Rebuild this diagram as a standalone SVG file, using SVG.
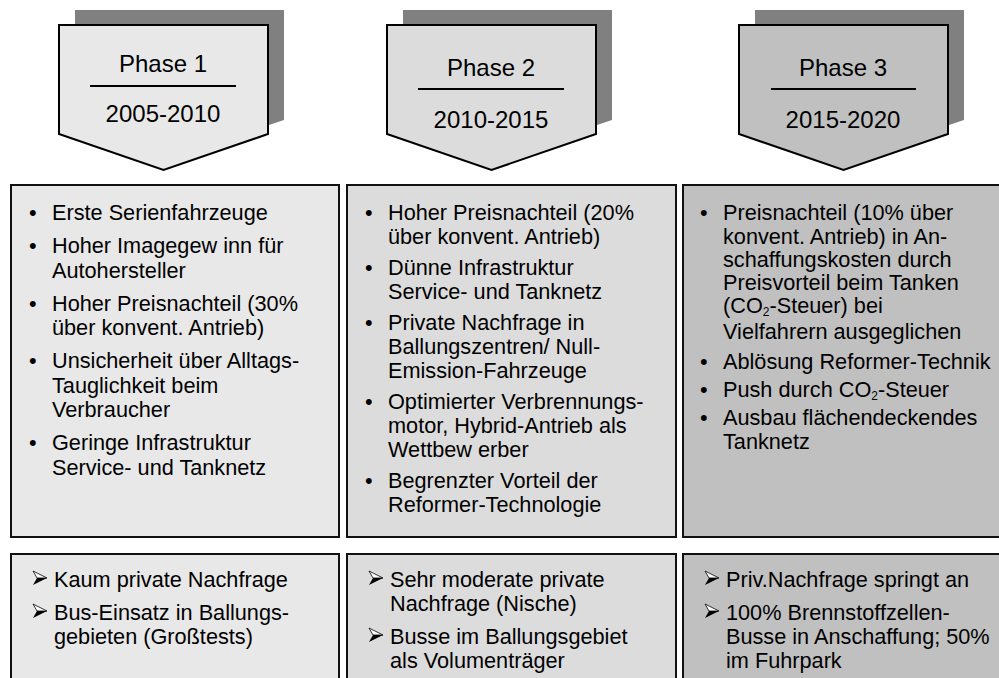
<svg xmlns="http://www.w3.org/2000/svg" width="999" height="678" viewBox="0 0 999 678">
<style>
.shadow{fill:#808080}
.pent{stroke:#000;stroke-width:2;stroke-linejoin:miter}
.box{stroke:#111;stroke-width:2}
.f1{fill:#e8e8e8}.f2{fill:#dcdcdc}.f3{fill:#c0c0c0}
.ph{font-family:"Liberation Sans",Arial,sans-serif;font-size:24px;text-anchor:middle;fill:#000}
.rule{stroke:#000;stroke-width:2}
.t{font-family:"Liberation Sans",Arial,sans-serif;font-size:21.7px;fill:#000}
.sub{font-size:12px}
</style>
<defs>
<g id="arr">
<path d="M0,0 L14,7 L4,7 Z" fill="#fff" stroke="#000" stroke-width="0.8" stroke-linejoin="round"/>
<path d="M4,7 L14,7 L0,14 Z" fill="#000"/>
</g>
</defs>

<g id="phase1">
<polygon class="shadow" points="75,10 284,10 284,120 179.5,155 75,120"/>
<polygon class="pent f1" points="59,25 268,25 268,134 163.5,170 59,134"/>
<text class="ph" x="163" y="72">Phase 1</text>
<line class="rule" x1="90" y1="86" x2="236" y2="86"/>
<text class="ph" x="163" y="122">2005-2010</text>
</g>

<g id="phase2">
<polygon class="shadow" points="403,10 612,10 612,120 507.5,155 403,120"/>
<polygon class="pent f2" points="387,25 596,25 596,134 491.5,170 387,134"/>
<text class="ph" x="491" y="76">Phase 2</text>
<line class="rule" x1="418" y1="89" x2="564" y2="89"/>
<text class="ph" x="491" y="128">2010-2015</text>
</g>

<g id="phase3">
<polygon class="shadow" points="755,10 964,10 964,120 859.5,155 755,120"/>
<polygon class="pent f3" points="739,25 948,25 948,134 843.5,170 739,134"/>
<text class="ph" x="843" y="76">Phase 3</text>
<line class="rule" x1="771" y1="89" x2="916" y2="89"/>
<text class="ph" x="843" y="128">2015-2020</text>
</g>

<g id="box1">
<rect class="box f1" x="11" y="185" width="328" height="352"/>
<g class="t">
<text x="29" y="220">•</text><text x="52" y="220">Erste Serienfahrzeuge</text>
<text x="29" y="253">•</text><text x="52" y="253">Hoher Imagegew inn für</text>
<text x="52" y="277.5">Autohersteller</text>
<text x="29" y="310.5">•</text><text x="52" y="310.5">Hoher Preisnachteil (30%</text>
<text x="52" y="335">über konvent. Antrieb)</text>
<text x="29" y="368">•</text><text x="52" y="368">Unsicherheit über Alltags-</text>
<text x="52" y="392.5">Tauglichkeit beim</text>
<text x="52" y="417">Verbraucher</text>
<text x="29" y="450">•</text><text x="52" y="450">Geringe Infrastruktur</text>
<text x="52" y="474.5">Service- und Tanknetz</text>
</g>
</g>

<g id="box2">
<rect class="box f2" x="347" y="185" width="329" height="352"/>
<g class="t">
<text x="365" y="220">•</text><text x="388" y="220">Hoher Preisnachteil (20%</text>
<text x="388" y="244">über konvent. Antrieb)</text>
<text x="365" y="275">•</text><text x="388" y="275">Dünne Infrastruktur</text>
<text x="388" y="299">Service- und Tanknetz</text>
<text x="365" y="330">•</text><text x="388" y="330">Private Nachfrage in</text>
<text x="388" y="354">Ballungszentren/ Null-</text>
<text x="388" y="378">Emission-Fahrzeuge</text>
<text x="365" y="409">•</text><text x="388" y="409">Optimierter Verbrennungs-</text>
<text x="388" y="433">motor, Hybrid-Antrieb als</text>
<text x="388" y="457">Wettbew erber</text>
<text x="365" y="488">•</text><text x="388" y="488">Begrenzter Vorteil der</text>
<text x="388" y="512">Reformer-Technologie</text>
</g>
</g>

<g id="box3">
<rect class="box f3" x="683" y="185" width="330" height="352"/>
<g class="t">
<text x="700" y="220">•</text><text x="723" y="220">Preisnachteil (10% über</text>
<text x="723" y="244">konvent. Antrieb) in An-</text>
<text x="723" y="267">schaffungskosten durch</text>
<text x="723" y="290">Preisvorteil beim Tanken</text>
<text x="723" y="313">(CO<tspan class="sub" dy="3">2</tspan><tspan dy="-3">-Steuer) bei</tspan></text>
<text x="723" y="339">Vielfahrern ausgeglichen</text>
<text x="700" y="369">•</text><text x="723" y="369">Ablösung Reformer-Technik</text>
<text x="700" y="397">•</text><text x="723" y="397">Push durch CO<tspan class="sub" dy="3">2</tspan><tspan dy="-3">-Steuer</tspan></text>
<text x="700" y="425">•</text><text x="723" y="425">Ausbau flächendeckendes</text>
<text x="723" y="449">Tanknetz</text>
</g>
</g>

<g id="bottom1">
<rect class="box f1" x="11" y="554" width="328" height="140"/>
<use href="#arr" x="33" y="571"/>
<use href="#arr" x="33" y="604"/>
<g class="t">
<text x="54" y="587">Kaum private Nachfrage</text>
<text x="54" y="620">Bus-Einsatz in Ballungs-</text>
<text x="54" y="644">gebieten (Großtests)</text>
</g>
</g>

<g id="bottom2">
<rect class="box f2" x="347" y="554" width="329" height="140"/>
<use href="#arr" x="369" y="571"/>
<use href="#arr" x="369" y="628"/>
<g class="t">
<text x="390" y="587">Sehr moderate private</text>
<text x="390" y="611">Nachfrage (Nische)</text>
<text x="390" y="644">Busse im Ballungsgebiet</text>
<text x="390" y="668">als Volumenträger</text>
</g>
</g>

<g id="bottom3">
<rect class="box f3" x="683" y="554" width="330" height="140"/>
<use href="#arr" x="705" y="571"/>
<use href="#arr" x="705" y="604"/>
<g class="t">
<text x="726" y="587">Priv.Nachfrage springt an</text>
<text x="726" y="620">100% Brennstoffzellen-</text>
<text x="726" y="644">Busse in Anschaffung; 50%</text>
<text x="726" y="668">im Fuhrpark</text>
</g>
</g>
</svg>
